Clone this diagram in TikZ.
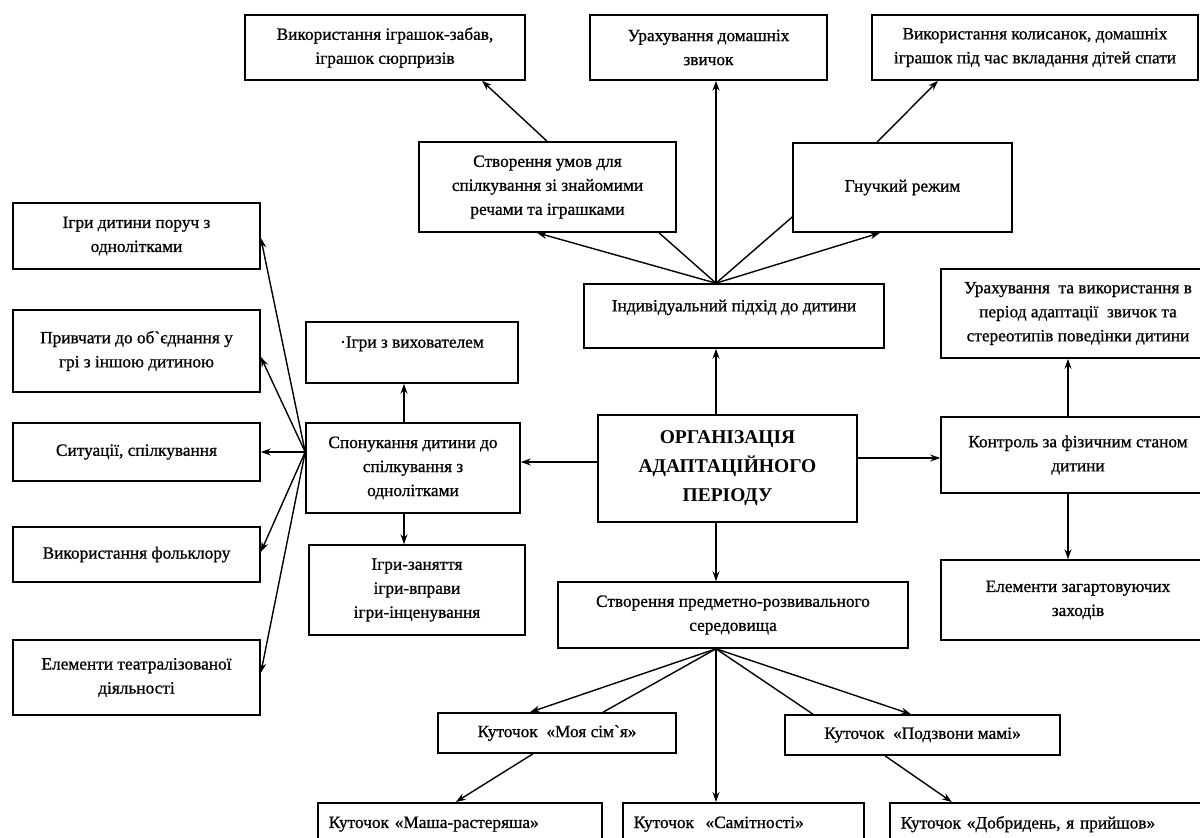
\documentclass[tikz,border=0pt]{standalone}
\usepackage{fontspec}
\setmainfont{Liberation Serif}
\newfontfamily\bodyfont{Liberation Serif}[BoldFont={Liberation Serif}, BoldFeatures={FakeBold=0.8}]
\usetikzlibrary{arrows.meta}
\tikzset{
  box/.style={draw, line width=1.6pt, inner sep=2pt, align=center, font=\bodyfont\bfseries\fontsize{17.3}{24}\selectfont},
  arr/.style={line width=1.4pt, -{Stealth[length=10pt,width=7pt]}},
  ln/.style={line width=1.4pt},
}
\begin{document}
\begin{tikzpicture}[x=1pt,y=-1pt]
\useasboundingbox (0,0) rectangle (1200,838);
\clip (0,0) rectangle (1200,838);
\fill[white] (0,0) rectangle (1200,838);
% top row
\node[box, minimum width=280pt, minimum height=65pt] (t1) at (385,47.5) {Використання іграшок-забав,\\ іграшок сюрпризів};
\node[box, minimum width=237pt, minimum height=65pt] (t2) at (708.5,47.5) {Урахування домашніх\\ звичок};
\node[box, minimum width=326pt, minimum height=65pt] (t3) at (1035,47.5) {Використання колисанок, домашніх\\ іграшок під час вкладання дітей спати};
% middle tier
\node[box, minimum width=257pt, minimum height=90pt] (m1) at (547.5,187) {Створення умов для\\ спілкування зі знайомими\\ речами та іграшками};
\node[box, minimum width=219pt, minimum height=89pt] (m2) at (902.5,187.5) {Гнучкий режим};
\node[box, minimum width=300pt, minimum height=64pt] (ind) at (734,316) {Індивідуальний підхід до дитини\\[-3pt]\mbox{}};
% centre
\node[box, minimum width=259pt, minimum height=107pt, font=\fontsize{19.5}{29}\selectfont\bfseries] (c) at (727.5,468.5) {ОРГАНІЗАЦІЯ\\ АДАПТАЦІЙНОГО\\ ПЕРІОДУ};
% left middle
\node[box, minimum width=212pt, minimum height=61pt] (izv) at (412,352.5) {·Ігри з вихователем\\[-3pt]\mbox{}};
\node[box, minimum width=214pt, minimum height=90pt] (spon) at (413,468) {Спонукання дитини до\\ спілкування з\\ однолітками};
\node[box, minimum width=216pt, minimum height=90pt] (iz) at (417,590) {Ігри-заняття\\ ігри-вправи\\ ігри-інценування};
% left column
\node[box, minimum width=247pt, minimum height=66pt] (l1) at (136.5,236) {Ігри дитини поруч з\\ однолітками};
\node[box, minimum width=247pt, minimum height=82pt] (l2) at (136.5,351) {Привчати до об`єднання у\\ грі з іншою дитиною};
\node[box, minimum width=247pt, minimum height=58pt] (l3) at (136.5,452) {Ситуації, спілкування};
\node[box, minimum width=247pt, minimum height=55pt] (l4) at (136.5,554.5) {Використання фольклору};
\node[box, minimum width=247pt, minimum height=75pt] (l5) at (136.5,677.5) {Елементи театралізованої\\ діяльності};
% right column
\node[box, minimum width=274pt, minimum height=89pt] (r1) at (1078,313.5) {Урахування \ та використання в\\ період адаптації \ звичок та\\ стереотипів поведінки дитини};
\node[box, minimum width=274pt, minimum height=76pt] (r2) at (1078,455) {Контроль за фізичним станом\\ дитини};
\node[box, minimum width=274pt, minimum height=80pt] (r3) at (1078,600) {Елементи загартовуючих\\ заходів};
% bottom
\node[box, minimum width=350pt, minimum height=66pt] (s) at (733,615) {Створення предметно-розвивального\\ середовища};
\node[box, minimum width=238pt, minimum height=40pt] (k1) at (557,733) {Куточок \ «Моя сім`я»};
\node[box, minimum width=275pt, minimum height=40pt] (k2) at (922.5,735) {Куточок \ «Подзвони мамі»};
\node[box, anchor=north west, minimum width=284pt, minimum height=60pt, text width=262pt, align=left] (b1) at (317,802) {Куточок «Маша-растеряша»\\[-3pt]\mbox{}};
\node[box, anchor=north west, minimum width=241pt, minimum height=60pt, text width=219pt, align=left] (b2) at (622,802) {Куточок \ «Самітності»\\[-3pt]\mbox{}};
\node[box, anchor=north west, minimum width=326pt, minimum height=60pt, text width=304pt, align=left] (b3) at (889,802) {Куточок «Добридень, я прийшов»\\[-3pt]\mbox{}};
% coordinates
\coordinate (fi) at ([xshift=-18pt]ind.north);
\coordinate (fs) at ([yshift=16pt]spon.west);
\coordinate (fb) at ([xshift=-17pt]s.south);
% individual fan
\draw[arr] (fi) -- ([xshift=-10.5pt]m1.south);
\draw[ln] (fi) -- ([xshift=111.5pt]m1.south);
\draw[arr] (fi) -- ([xshift=7.5pt]t2.south);
\draw[ln] (fi) -- ([yshift=-29.5pt]m2.west);
\draw[arr] (fi) -- ([xshift=-22.5pt]m2.south);
\draw[arr] ([xshift=-0.5pt]m1.north) -- ([xshift=97pt]t1.south);
\draw[arr] ([xshift=-25.5pt]m2.north) -- ([xshift=-97pt]t3.south);
% centre arrows
\draw[arr] ([xshift=-11.5pt]c.north) -- ([xshift=-18pt]ind.south);
\draw[arr] ([xshift=-11.5pt]c.south) -- ([xshift=-17pt]s.north);
\draw[arr] ([yshift=6.5pt]c.west) -- ([yshift=6.5pt]c.west -| spon.east);
\draw[arr] ([yshift=10.5pt]c.east) -- ([yshift=10.5pt]c.east -| r2.west);
% spon
\draw[arr] ([xshift=-9pt]spon.north) -- ([xshift=-9pt]spon.north |- izv.south);
\draw[arr] ([xshift=-9pt]spon.south) -- ([xshift=-9pt]spon.south |- iz.north);
\draw[arr] (fs) -- ([yshift=-2pt]l1.east);
\draw[arr] (fs) -- ([yshift=-6pt]l2.east);
\draw[arr] (fs) -- (l3.east);
\draw[arr] (fs) -- ([yshift=2.5pt]l4.east);
\draw[arr] (fs) -- ([yshift=4.5pt]l5.east);
% right column
\draw[arr] ([xshift=-10pt]r2.north) -- ([xshift=-10pt]r2.north |- r1.south);
\draw[arr] ([xshift=-10pt]r2.south) -- ([xshift=-10pt]r2.south |- r3.north);
% bottom fan
\draw[arr] (fb) -- ([xshift=-27pt]k1.north);
\draw[ln] (fb) -- ([xshift=46pt]k1.north);
\draw[arr] (fb) -- (fb |- b2.north);
\draw[ln] (fb) -- ([xshift=-109.5pt]k2.north);
\draw[arr] (fb) -- ([xshift=-11.5pt]k2.north);
\draw[arr] ([xshift=-24pt]k1.south) -- ([xshift=-4pt]b1.north);
\draw[arr] ([xshift=-37.5pt]k2.south) -- ([xshift=-101pt]b3.north);
\end{tikzpicture}
\end{document}
